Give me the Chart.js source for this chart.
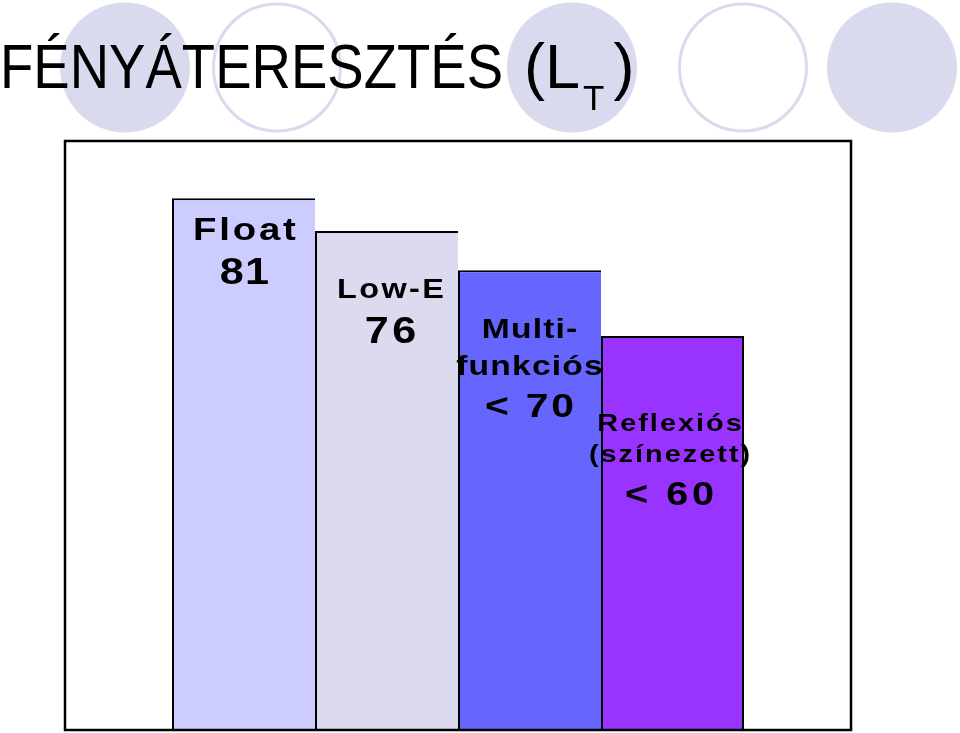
<!DOCTYPE html>
<html lang="hu">
<head>
<meta charset="utf-8">
<title>Fényáteresztés (LT)</title>
<script src="https://cdn.jsdelivr.net/npm/chart.js@4.4.0/dist/chart.umd.min.js"></script>
<style>
  html, body { margin: 0; padding: 0; background: #fff; }
  #wrap { position: relative; width: 960px; height: 733px; overflow: hidden; }
</style>
</head>
<body>
<div id="wrap"><canvas id="ltChart" width="960" height="733"></canvas></div>
<script>
(function(){
  'use strict';

  // ---- Datos ----
  const categories = ['Float', 'Low-E', 'Multifunkciós', 'Reflexiós (színezett)'];
  const values     = [81, 76, 70, 60];
  const valueTexts = ['81', '76', '< 70', '< 60'];
  const nameLines  = [['Float'], ['Low-E'], ['Multi-', 'funkciós'], ['Reflexiós', '(színezett)']];
  const titleMain  = 'FÉNYÁTERESZTÉS';
  const titleSym   = '(L';
  const titleSub   = 'T';

  // ---- Estilos ----
  const barColors = ['#ccccff', '#dcdaee', '#6666ff', '#9933ff'];
  const FONT = '"Liberation Sans", Arial, Helvetica, sans-serif';
  const TEXT_SX = 1.2;   // texto de las barras algo ensanchado
  // desplazamientos (px) de las líneas de texto respecto al tope de cada barra
  const labelLayout = [
    { names: [42],       nameSize: 32, nameLs: 2.3, value: 86,  valueSize: 36, valueLs: 1,   dx: 1 },
    { names: [67],       nameSize: 27, nameLs: 2,   value: 112, valueSize: 36, valueLs: 3,   dx: 4 },
    { names: [68, 105],  nameSize: 28, nameLs: 1,   value: 147, valueSize: 34, valueLs: 2.3, dx: 0 },
    { names: [95, 126],  nameSize: 24, nameLs: 1.7, value: 169, valueSize: 33, valueLs: 3,   dx: -3 }
  ];
  const circles = [
    { x: 125, fill: true }, { x: 277, fill: false }, { x: 572, fill: true },
    { x: 743, fill: false }, { x: 892, fill: true }
  ];
  const circleColor = '#dadaee';

  // Fondo decorativo + título
  const backdrop = {
    id: 'backdrop',
    beforeDraw(chart){
      const ctx = chart.ctx;
      ctx.save();
      ctx.fillStyle = '#fff';
      ctx.fillRect(0, 0, chart.width, chart.height);
      circles.forEach(c => {
        ctx.beginPath();
        ctx.arc(c.x, 67.5, c.fill ? 65 : 63.5, 0, Math.PI * 2);
        if (c.fill) { ctx.fillStyle = circleColor; ctx.fill(); }
        else { ctx.strokeStyle = circleColor; ctx.lineWidth = 3; ctx.stroke(); }
      });

      ctx.fillStyle = '#000';
      ctx.textBaseline = 'alphabetic';
      ctx.font = `63px ${FONT}`;
      const sx = 503 / ctx.measureText(titleMain).width;
      ctx.save();
      ctx.translate(0, 88);
      ctx.scale(sx, 1);
      ctx.fillText(titleMain, 0, 0);
      ctx.restore();
      // "(L" + subíndice "T" + ")" sin comprimir
      let x = 524;
      ctx.fillText(titleSym, x, 88);
      x += ctx.measureText(titleSym).width + 3;
      ctx.font = `35px ${FONT}`;
      ctx.fillText(titleSub, x, 110);
      x += ctx.measureText(titleSub).width + 9;
      ctx.font = `63px ${FONT}`;
      ctx.fillText(')', x, 88);
      ctx.restore();
    }
  };

  const drawWide = (ctx, text, x, y, ls) => {
    ctx.save();
    ctx.translate(x, y);
    ctx.scale(TEXT_SX, 1);
    ctx.letterSpacing = `${ls}px`;
    ctx.fillText(text, ls / 2, 0);
    ctx.restore();
  };

  // Marco + etiquetas dentro de las barras
  const frameLabels = {
    id: 'frameLabels',
    afterDraw(chart){
      const ctx = chart.ctx;
      const a = chart.chartArea;
      const y = chart.scales.y;
      ctx.save();
      ctx.strokeStyle = '#000';
      ctx.lineWidth = 2.5;
      ctx.strokeRect(a.left, a.top, a.right - a.left, a.bottom - a.top);

      ctx.fillStyle = '#000';
      ctx.textAlign = 'center';
      ctx.textBaseline = 'alphabetic';
      values.forEach((v, i) => {
        const bar = chart.getDatasetMeta(i).data[0];
        const L = labelLayout[i];
        const top = y.getPixelForValue(v);
        const cx = bar.x + L.dx;
        ctx.font = `bold ${L.nameSize}px ${FONT}`;
        nameLines[i].forEach((t, k) => drawWide(ctx, t, cx, top + L.names[k], L.nameLs));
        ctx.font = `bold ${L.valueSize}px ${FONT}`;
        drawWide(ctx, valueTexts[i], cx, top + L.value, L.valueLs);
      });
      ctx.restore();
    }
  };

  const ctx = document.getElementById('ltChart').getContext('2d');
  new Chart(ctx, {
    type: 'bar',
    data: {
      labels: [''],
      datasets: categories.map((c, i) => ({
        label: c,
        data: [values[i]],
        backgroundColor: barColors[i],
        borderColor: '#000',
        borderWidth: { top: 2, left: 2, right: i === categories.length - 1 ? 2 : 0, bottom: 0 },
        borderSkipped: false,
        barPercentage: 1,
        categoryPercentage: 572 / 786
      }))
    },
    options: {
      responsive: false,
      animation: false,
      devicePixelRatio: 1,
      layout: { padding: { left: 65, right: 109, top: 141, bottom: 3 } },
      scales: {
        x: { display: false },
        y: { display: false, min: 0, max: 89.7 }
      },
      plugins: {
        legend: { display: false },
        tooltip: { enabled: false }
      }
    },
    plugins: [backdrop, frameLabels]
  });
})();
</script>
</body>
</html>
